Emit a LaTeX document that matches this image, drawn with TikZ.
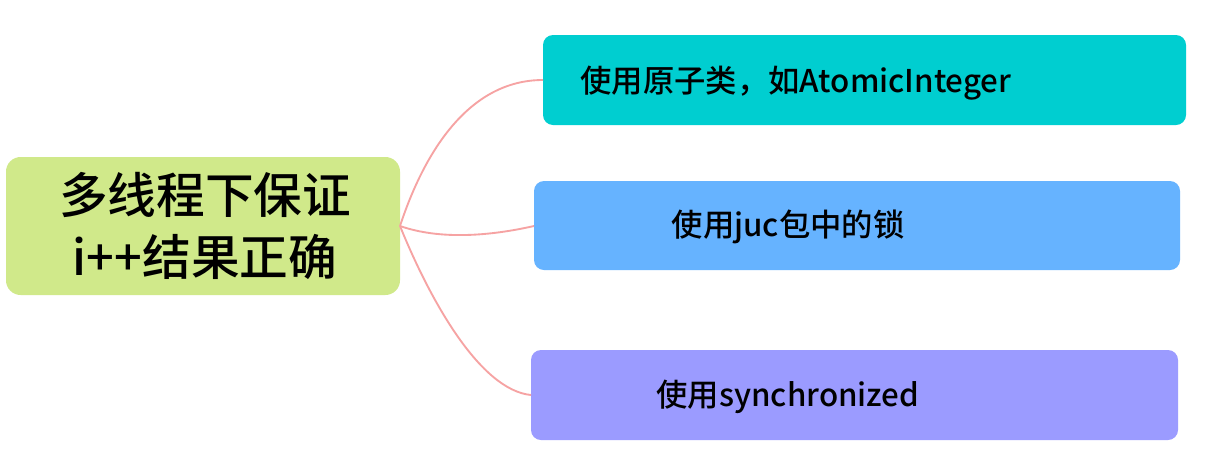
\documentclass[tikz,border=0pt]{standalone}
\usepackage{fontspec}
\newfontfamily\cjk{Noto Sans CJK SC Medium}
\begin{document}
\begin{tikzpicture}[x=0.75pt,y=-0.75pt,
  rootbox/.style={fill=rootgreen,rounded corners=11pt,draw=none},
  leafbox/.style={rounded corners=7.5pt,draw=none},
  link/.style={draw=linkred,line width=1.4pt},
  label/.style={font=\cjk\fontsize{23.5}{28}\selectfont,text=black,inner sep=0pt}]
\definecolor{rootgreen}{HTML}{D0E98A}
\definecolor{leafcyan}{HTML}{00CED0}
\definecolor{leafblue}{HTML}{66B3FF}
\definecolor{leafviolet}{HTML}{9B9BFF}
\definecolor{linkred}{HTML}{F6A3A3}
\useasboundingbox (0,0) rectangle (1206,465);
\fill[white] (0,0) rectangle (1206,465);

% boxes
\fill[rootbox] (6,157) rectangle (400,295);
\fill[leafbox,fill=leafcyan] (543,35) rectangle (1186,125);
\fill[leafbox,fill=leafblue] (534,181) rectangle (1180,270);
\fill[leafbox,fill=leafviolet] (531,350) rectangle (1178,440);

% anchor points for the connectors
\coordinate (r) at (400,226);
\coordinate (a) at (543,80);
\coordinate (b) at (534,226);
\coordinate (c) at (531,395);

\draw[link] (r) .. controls (425,150) and (470,80) .. (a);
\draw[link] (r) .. controls (440,240) and (490,236) .. (b);
\draw[link] (r) .. controls (430,300) and (480,390) .. (c);

% texts
\node[label,font=\cjk\fontsize{36.5}{47}\selectfont,align=center] (rt) at (205,226)
  {多线程下保证\\i++结果正确};
\node[label] (at) at (796,83) {使用原子类，如AtomicInteger};
\node[label] (bt) at (788,227) {使用juc包中的锁};
\node[label] (ct) at (788,397) {使用synchronized};
\end{tikzpicture}
\end{document}
